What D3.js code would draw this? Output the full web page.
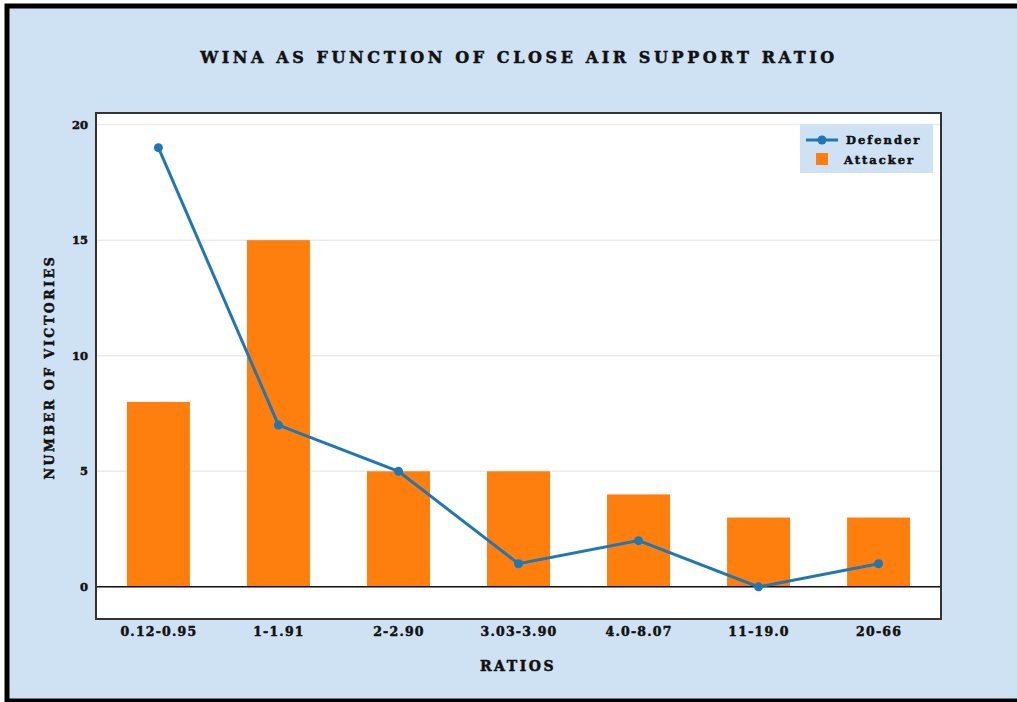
<!DOCTYPE html>
<html>
<head>
<meta charset="utf-8">
<script src="https://cdn.jsdelivr.net/npm/d3@7"></script>
<style>
  body { margin: 0; background: #ffffff; }
  text { font-family: "DejaVu Serif", serif; font-weight: bold; fill: #111; stroke: #111; stroke-width: 0.5; }
</style>
</head>
<body>
<script>
//chart data
var categories = ["0.12-0.95", "1-1.91", "2-2.90", "3.03-3.90", "4.0-8.07", "11-19.0", "20-66"];
var attacker = [8, 15, 5, 5, 4, 3, 3];
var defender = [19, 7, 5, 1, 2, 0, 1];
var yTicks = [0, 5, 10, 15, 20];

var width = 1017,
    height = 702;

var svg = d3.select("body")
    .append("svg")
    .attr("width", width)
    .attr("height", height);

//light blue page with black frame
svg.append("rect")
    .attr("x", 7).attr("y", 6)
    .attr("width", width + 10).attr("height", 695)
    .attr("fill", "#cfe2f3")
    .attr("stroke", "#000")
    .attr("stroke-width", 5);

//plot area
var plotLeft = 96, plotRight = 941, plotTop = 113, plotBottom = 619;

var x = d3.scaleLinear()
    .domain([-0.52, 6.52])
    .range([plotLeft, plotRight]);

var y = d3.scaleLinear()
    .domain([-1.39, 20.5])
    .range([plotBottom, plotTop]);

svg.append("rect")
    .attr("x", plotLeft).attr("y", plotTop)
    .attr("width", plotRight - plotLeft).attr("height", plotBottom - plotTop)
    .attr("fill", "#fff");

//grid
svg.selectAll(".grid")
    .data(yTicks)
    .enter()
    .append("line")
    .attr("class", "grid")
    .attr("x1", plotLeft).attr("x2", plotRight)
    .attr("y1", function(d) { return y(d); })
    .attr("y2", function(d) { return y(d); })
    .attr("stroke", "#ebebeb")
    .attr("stroke-width", 1.5);

//attacker bars
var barW = 0.525;
svg.selectAll(".bar")
    .data(attacker)
    .enter()
    .append("rect")
    .attr("class", "bar")
    .attr("x", function(d, i) { return x(i - barW / 2); })
    .attr("width", x(barW) - x(0))
    .attr("y", function(d) { return y(d); })
    .attr("height", function(d) { return y(0) - y(d); })
    .attr("fill", "#ff7f0e");

//zero line
svg.append("line")
    .attr("x1", plotLeft).attr("x2", plotRight)
    .attr("y1", y(0)).attr("y2", y(0))
    .attr("stroke", "#111")
    .attr("stroke-width", 1.5);

//defender line
var line = d3.line()
    .x(function(d, i) { return x(i); })
    .y(function(d) { return y(d); });

svg.append("path")
    .datum(defender)
    .attr("d", line)
    .attr("fill", "none")
    .attr("stroke", "#1f77b4")
    .attr("stroke-width", 3);

svg.selectAll(".dot")
    .data(defender)
    .enter()
    .append("circle")
    .attr("class", "dot")
    .attr("cx", function(d, i) { return x(i); })
    .attr("cy", function(d) { return y(d); })
    .attr("r", 4.5)
    .attr("fill", "#1f77b4");

//frame
svg.append("rect")
    .attr("x", plotLeft).attr("y", plotTop)
    .attr("width", plotRight - plotLeft).attr("height", plotBottom - plotTop)
    .attr("fill", "none")
    .attr("stroke", "#333")
    .attr("stroke-width", 2);

//axes
var yAxis = svg.append("g")
    .attr("transform", "translate(" + plotLeft + ",0)")
    .call(d3.axisLeft(y).tickValues(yTicks).tickSize(0).tickPadding(8));
yAxis.select(".domain").remove();
yAxis.selectAll("text")
    .attr("font-family", "DejaVu Serif")
    .attr("font-size", 11.5)
    .attr("font-weight", "bold")
    .attr("fill", "#111");

var xAxis = svg.append("g")
    .attr("transform", "translate(0," + plotBottom + ")")
    .call(d3.axisBottom(x)
        .tickValues(d3.range(categories.length))
        .tickFormat(function(d) { return categories[d]; })
        .tickSize(0).tickPadding(8));
xAxis.select(".domain").remove();
xAxis.selectAll("text")
    .attr("font-family", "DejaVu Serif")
    .attr("font-size", 12.5)
    .attr("font-weight", "bold")
    .attr("letter-spacing", 1.2)
    .attr("fill", "#111");

//title and axis labels
svg.append("text")
    .attr("x", 519).attr("y", 63)
    .attr("text-anchor", "middle")
    .attr("font-size", 16)
    .attr("letter-spacing", 3.6)
    .text("WINA AS FUNCTION OF CLOSE AIR SUPPORT RATIO");

svg.append("text")
    .attr("x", 518).attr("y", 671)
    .attr("text-anchor", "middle")
    .attr("font-size", 14)
    .attr("letter-spacing", 2.5)
    .text("RATIOS");

svg.append("text")
    .attr("transform", "translate(54,367) rotate(-90)")
    .attr("text-anchor", "middle")
    .attr("font-size", 12.5)
    .attr("letter-spacing", 2.6)
    .text("NUMBER OF VICTORIES");

//legend
var legend = svg.append("g");
legend.append("rect")
    .attr("x", 800).attr("y", 124)
    .attr("width", 133).attr("height", 49)
    .attr("fill", "#cfe2f3");
legend.append("line")
    .attr("x1", 806).attr("x2", 838)
    .attr("y1", 140).attr("y2", 140)
    .attr("stroke", "#1f77b4")
    .attr("stroke-width", 3);
legend.append("circle")
    .attr("cx", 822).attr("cy", 140).attr("r", 4.5)
    .attr("fill", "#1f77b4");
legend.append("rect")
    .attr("x", 816).attr("y", 153)
    .attr("width", 12).attr("height", 12)
    .attr("fill", "#ff7f0e");
legend.append("text")
    .attr("x", 846).attr("y", 144)
    .attr("font-size", 11.5)
    .attr("letter-spacing", 2)
    .text("Defender");
legend.append("text")
    .attr("x", 844).attr("y", 164)
    .attr("font-size", 11.5)
    .attr("letter-spacing", 2)
    .text("Attacker");
</script>
</body>
</html>
